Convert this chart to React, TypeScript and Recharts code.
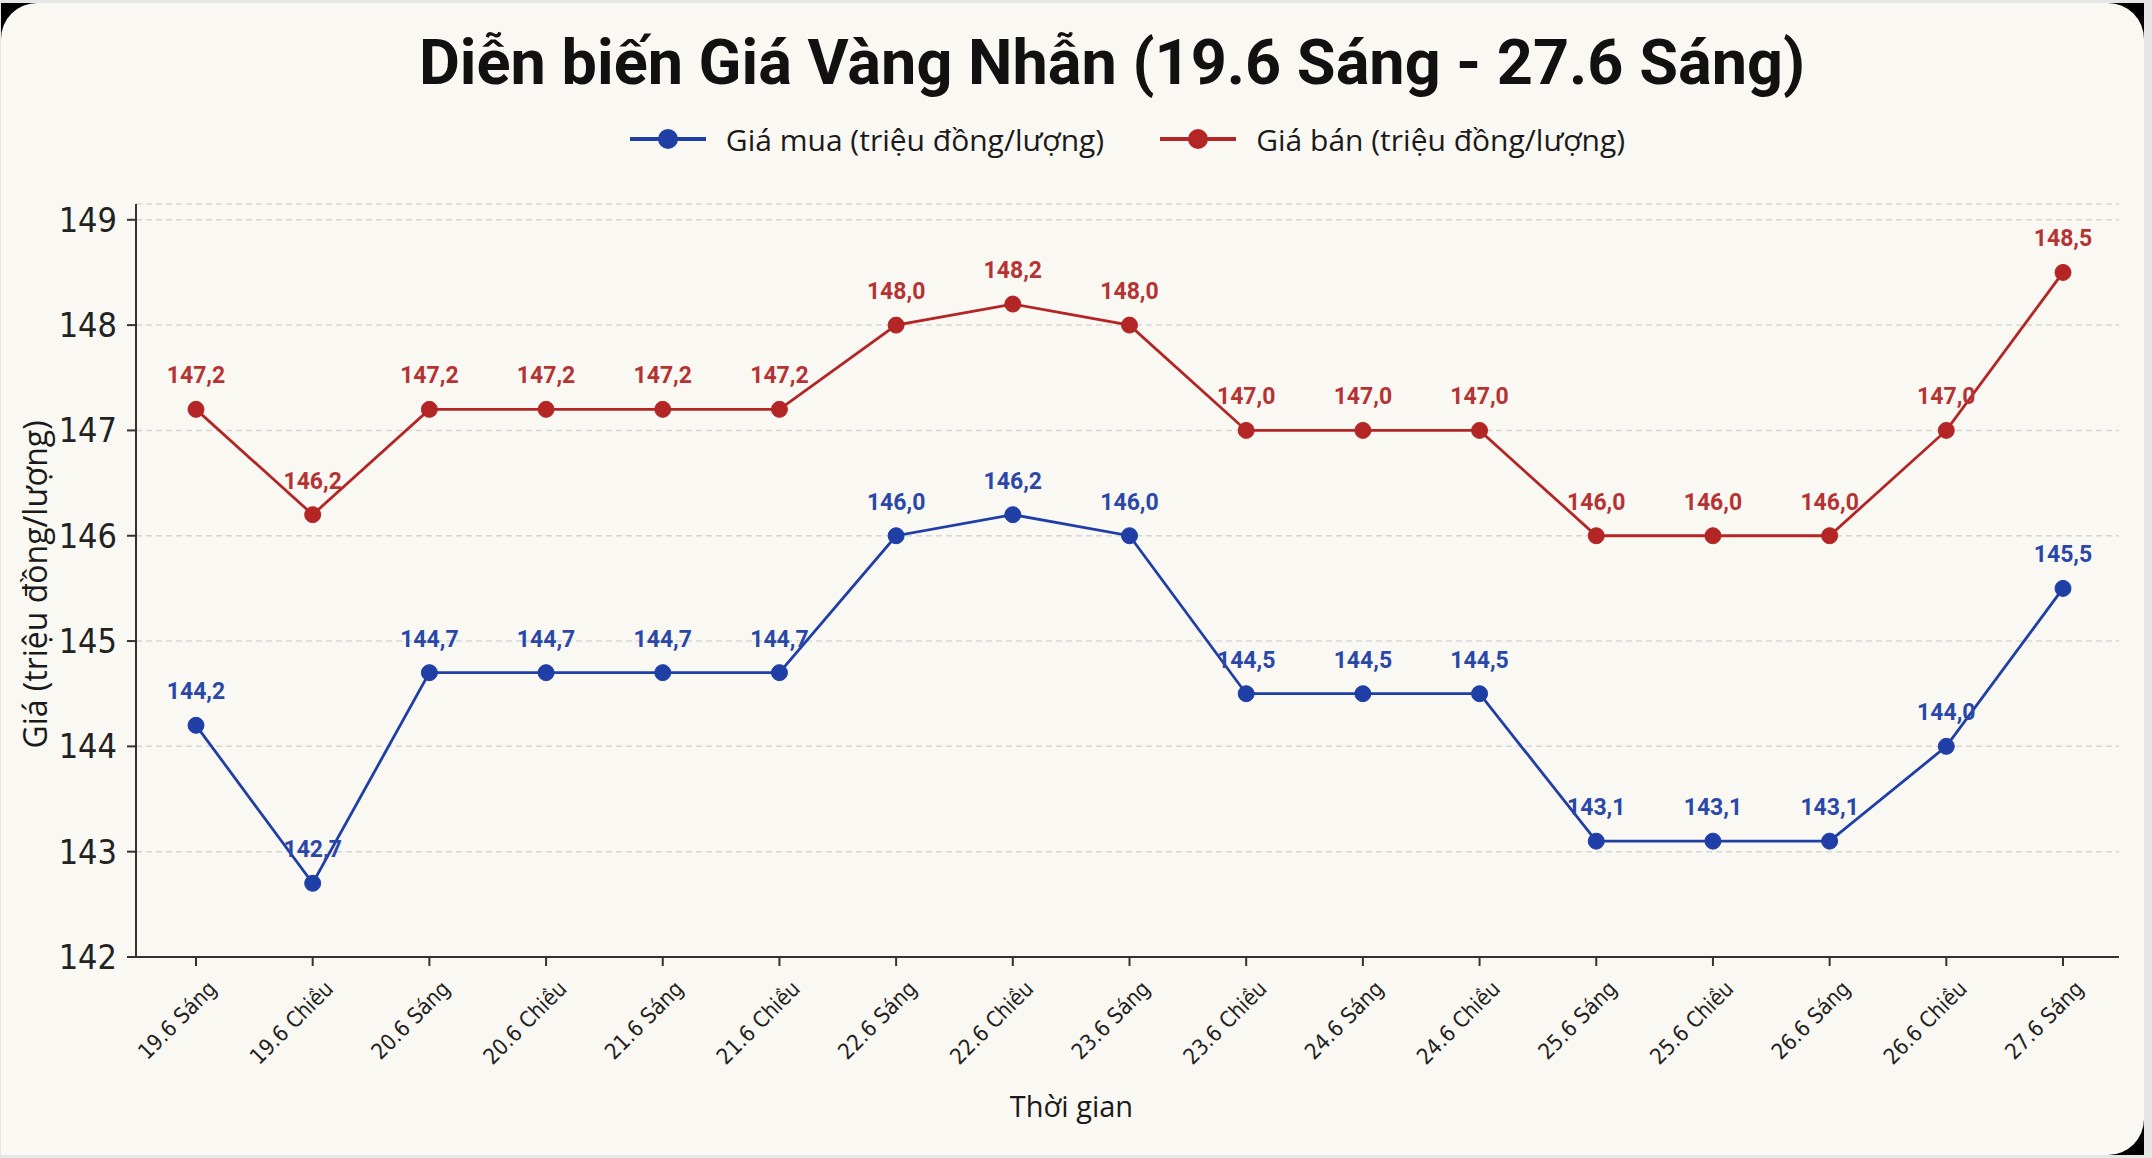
import React from "react";
import { CartesianGrid, LabelList, Line, LineChart, XAxis, YAxis } from "recharts";

const CATEGORIES = [
  "19.6 Sáng",
  "19.6 Chiều",
  "20.6 Sáng",
  "20.6 Chiều",
  "21.6 Sáng",
  "21.6 Chiều",
  "22.6 Sáng",
  "22.6 Chiều",
  "23.6 Sáng",
  "23.6 Chiều",
  "24.6 Sáng",
  "24.6 Chiều",
  "25.6 Sáng",
  "25.6 Chiều",
  "26.6 Sáng",
  "26.6 Chiều",
  "27.6 Sáng",
];

const GIA_MUA = [
  144.2, 142.7, 144.7, 144.7, 144.7, 144.7, 146.0, 146.2, 146.0, 144.5, 144.5,
  144.5, 143.1, 143.1, 143.1, 144.0, 145.5,
];

const GIA_BAN = [
  147.2, 146.2, 147.2, 147.2, 147.2, 147.2, 148.0, 148.2, 148.0, 147.0, 147.0,
  147.0, 146.0, 146.0, 146.0, 147.0, 148.5,
];

const Y_TICKS = [142, 143, 144, 145, 146, 147, 148, 149];

const SERIES = [
  { key: "mua", name: "Giá mua (triệu đồng/lượng)", color: "#1f3ea6", labelColor: "#2a48a8" },
  { key: "ban", name: "Giá bán (triệu đồng/lượng)", color: "#b42525", labelColor: "#b53333" },
];

const data = CATEGORIES.map((label, i) => ({
  label,
  mua: GIA_MUA[i],
  ban: GIA_BAN[i],
}));

const W = 2152;
const H = 1158;
const NARROW = "'Liberation Sans Narrow', 'Arial Narrow', 'DejaVu Sans Condensed', sans-serif";
const SANS = "'Open Sans', 'Noto Sans', sans-serif";

const fmt = (v: number) => v.toFixed(1).replace(".", ",");

// value text drawn above each point, decimal comma
const makeValueLabel = (color: string) => (props: any) => {
  const x = props.x ?? props.viewBox?.x;
  const y = props.y ?? props.viewBox?.y;
  if (x == null || y == null) return null;
  return (
    <text
      x={x}
      y={y - 26}
      textAnchor="middle"
      fill={color}
      fontSize={23}
      fontWeight={700}
      fontFamily="Roboto, sans-serif"
    >
      {fmt(Number(props.value))}
    </text>
  );
};

const XTick = (props: any) => {
  const { x, y, payload } = props;
  const ax = x + 22;
  const ay = y + 22;
  return (
    <text
      x={ax}
      y={ay}
      transform={`rotate(-45 ${ax} ${ay})`}
      textAnchor="end"
      fill="#222"
      fontSize={22}
      fontFamily={NARROW}
    >
      {payload.value}
    </text>
  );
};

const xAxisTitle = (props: any) => {
  const vb = props.viewBox;
  return (
    <text
      x={vb.x + vb.width / 2 - 56}
      y={vb.y + 160}
      textAnchor="middle"
      fill="#1a1a1a"
      fontSize={29}
      fontFamily={SANS}
    >
      Thời gian
    </text>
  );
};

const yAxisTitle = (props: any) => {
  const vb = props.viewBox;
  const cx = vb.x + 34;
  const cy = vb.y + vb.height / 2 + 4;
  return (
    <text
      x={cx}
      y={cy}
      transform={`rotate(-90 ${cx} ${cy})`}
      textAnchor="middle"
      dominantBaseline="central"
      fill="#1a1a1a"
      fontSize={32}
      fontFamily={SANS}
    >
      Giá (triệu đồng/lượng)
    </text>
  );
};

function LegendRow() {
  return (
    <div
      style={{
        position: "absolute",
        left: 136,
        width: 1983,
        top: 119,
        height: 40,
        display: "flex",
        justifyContent: "center",
        alignItems: "center",
        gap: 56,
        fontFamily: SANS,
        fontSize: 30,
        color: "#1a1a1a",
      }}
    >
      {SERIES.map((s) => (
        <span key={s.key} style={{ display: "flex", alignItems: "center", gap: 20 }}>
          <svg width={76} height={22}>
            <line x1={0} y1={11} x2={76} y2={11} stroke={s.color} strokeWidth={4} />
            <circle cx={38} cy={11} r={10} fill={s.color} />
          </svg>
          {s.name}
        </span>
      ))}
    </div>
  );
}

export default function App() {
  return (
    <div
      style={{
        position: "fixed",
        left: 0,
        top: 0,
        width: W,
        height: H,
        background: "#e6e6e6",
      }}
    >
      <div
        style={{
          position: "absolute",
          left: 1,
          top: 3,
          width: 2143,
          height: 1152,
          background: "#000",
        }}
      >
        <div
          style={{
            position: "absolute",
            inset: 0,
            background: "#faf8f3",
            borderRadius: "36px 36px 36px 0",
          }}
        />
      </div>

      <div
        style={{
          position: "absolute",
          left: 72,
          right: 0,
          top: 31,
          textAlign: "center",
          fontFamily: "Roboto, sans-serif",
          fontWeight: 700,
          fontSize: 63,
          lineHeight: "63px",
          color: "#111",
        }}
      >
        Diễn biến Giá Vàng Nhẫn (19.6 Sáng - 27.6 Sáng)
      </div>

      <LegendRow />

      <div style={{ position: "absolute", left: 0, top: 0 }}>
        <LineChart
          width={W}
          height={H}
          data={data}
          margin={{ top: 204, right: 33, bottom: 0, left: 0 }}
        >
          <CartesianGrid
            vertical={false}
            stroke="#d6d6d6"
            strokeWidth={1.5}
            strokeDasharray="6 4"
          />
          <XAxis
            dataKey="label"
            interval={0}
            padding={{ left: 60, right: 56 }}
            height={201}
            tick={<XTick />}
            tickSize={9}
            tickMargin={2}
            axisLine={{ stroke: "#333", strokeWidth: 2 }}
            tickLine={{ stroke: "#333", strokeWidth: 2 }}
            label={xAxisTitle}
          />
          <YAxis
            domain={[142, 149.15]}
            ticks={Y_TICKS}
            allowDataOverflow
            width={136}
            tickSize={9}
            tickMargin={10}
            tick={{ fill: "#222", fontSize: 34, fontFamily: NARROW }}
            axisLine={{ stroke: "#333", strokeWidth: 2 }}
            tickLine={{ stroke: "#333", strokeWidth: 2 }}
            label={yAxisTitle}
          />
          {SERIES.map((s) => (
            <Line
              key={s.key}
              type="linear"
              dataKey={s.key}
              name={s.name}
              stroke={s.color}
              strokeWidth={2.8}
              dot={{ r: 8, fill: s.color, stroke: s.color, strokeWidth: 1 }}
              activeDot={false}
              isAnimationActive={false}
            >
              <LabelList dataKey={s.key} content={makeValueLabel(s.labelColor)} />
            </Line>
          ))}
        </LineChart>
      </div>
    </div>
  );
}
